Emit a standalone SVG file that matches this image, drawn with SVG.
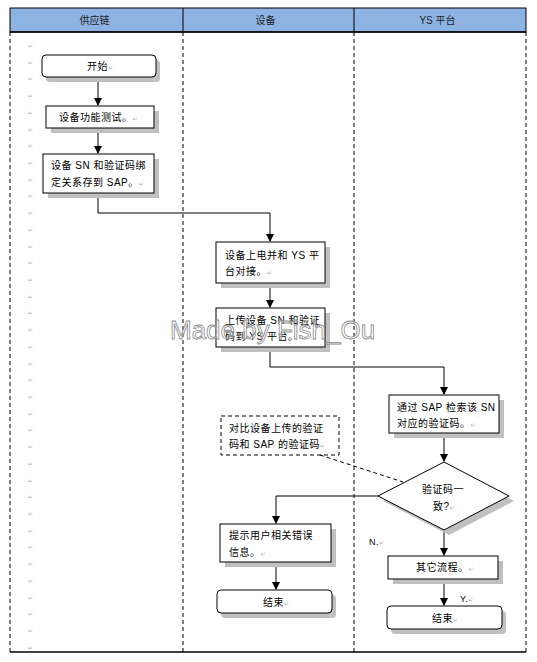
<svg xmlns="http://www.w3.org/2000/svg" width="537" height="662" viewBox="0 0 537 662">
<defs>
<style>
.t{font-family:"Liberation Sans","Noto Sans CJK SC",sans-serif;font-size:10px;fill:#000;letter-spacing:0.5px}
.h{font-family:"Liberation Sans","Noto Sans CJK SC",sans-serif;font-size:10px;fill:#222;text-anchor:middle}
.pm{font-family:"DejaVu Sans",sans-serif;font-size:6px;fill:#b0b0b0;letter-spacing:0}
.box{fill:#fff;stroke:#000;stroke-width:1}
.sh{fill:#c0c0c0}
.ln{fill:none;stroke:#000;stroke-width:1}
.dl{fill:none;stroke:#000;stroke-width:1;stroke-dasharray:4 3}
</style>
<marker id="ar" markerWidth="8" markerHeight="8" refX="7" refY="4" orient="auto" markerUnits="userSpaceOnUse">
<path d="M0,0 L8,4 L0,8 z" fill="#000"/>
</marker>
</defs>
<rect width="537" height="662" fill="#fff"/>
<g id="lanes">
<rect x="10" y="8" width="516" height="24" fill="#8db3e2" stroke="#000" stroke-width="1"/>
<line x1="183" y1="8" x2="183" y2="32" stroke="#000"/>
<line x1="354" y1="8" x2="354" y2="32" stroke="#000"/>
<line x1="10" y1="32" x2="526" y2="32" stroke="#000" stroke-width="1.5"/>
<line x1="10" y1="32" x2="10" y2="652" class="dl"/>
<line x1="183" y1="32" x2="183" y2="652" class="dl"/>
<line x1="354" y1="32" x2="354" y2="652" class="dl"/>
<line x1="526" y1="32" x2="526" y2="652" class="dl"/>
<line x1="10" y1="652" x2="526" y2="652" stroke="#000" stroke-width="1.5"/>
<text class="h" x="97" y="24">供应链<tspan class="pm">↵</tspan></text>
<text class="h" x="268" y="24">设备<tspan class="pm">↵</tspan></text>
<text class="h" x="440" y="24">YS 平台<tspan class="pm">↵</tspan></text>
</g>
<g id="marks" class="pm">
<text x="28" y="48">↵</text><text x="28" y="65">↵</text><text x="28" y="81">↵</text><text x="28" y="98">↵</text><text x="28" y="115">↵</text><text x="28" y="132">↵</text><text x="28" y="148">↵</text><text x="28" y="165">↵</text><text x="28" y="182">↵</text><text x="28" y="198">↵</text><text x="28" y="215">↵</text><text x="28" y="232">↵</text><text x="28" y="249">↵</text><text x="28" y="265">↵</text><text x="28" y="282">↵</text><text x="28" y="299">↵</text><text x="28" y="315">↵</text><text x="28" y="332">↵</text><text x="28" y="349">↵</text><text x="28" y="366">↵</text><text x="28" y="382">↵</text><text x="28" y="399">↵</text><text x="28" y="416">↵</text><text x="28" y="432">↵</text><text x="28" y="449">↵</text><text x="28" y="466">↵</text><text x="28" y="483">↵</text><text x="28" y="499">↵</text><text x="28" y="516">↵</text><text x="28" y="533">↵</text><text x="28" y="549">↵</text><text x="28" y="566">↵</text><text x="28" y="583">↵</text><text x="28" y="600">↵</text><text x="28" y="616">↵</text><text x="28" y="633">↵</text><text x="28" y="650">↵</text>
</g>
<g id="connectors">
<line x1="98" y1="77" x2="98" y2="105" class="ln" marker-end="url(#ar)"/>
<line x1="98" y1="128" x2="98" y2="153" class="ln" marker-end="url(#ar)"/>
<polyline points="98,193 98,213 270,213 270,241" class="ln" marker-end="url(#ar)"/>
<line x1="270" y1="283" x2="270" y2="307" class="ln" marker-end="url(#ar)"/>
<polyline points="270,347 270,367 444,367 444,394" class="ln" marker-end="url(#ar)"/>
<line x1="444" y1="433" x2="444" y2="461" class="ln" marker-end="url(#ar)"/>
<polyline points="378,496 276,496 276,523" class="ln" marker-end="url(#ar)"/>
<line x1="276" y1="562" x2="276" y2="589" class="ln" marker-end="url(#ar)"/>
<line x1="444" y1="530" x2="444" y2="555" class="ln" marker-end="url(#ar)"/>
<line x1="444" y1="579" x2="444" y2="605" class="ln" marker-end="url(#ar)"/>
<line x1="320" y1="455" x2="403" y2="482" class="dl"/>
<text class="t" x="369" y="545" style="font-size:9px">N.<tspan class="pm">↵</tspan></text>
<text class="t" x="460" y="602" style="font-size:9px">Y.<tspan class="pm">↵</tspan></text>
</g>
<g id="start">
<rect x="46" y="60" width="114" height="22" rx="4" class="sh"/>
<rect x="42" y="55" width="114" height="22" rx="4" class="box"/>
<text class="t" x="87" y="70">开始<tspan class="pm">↵</tspan></text>
</g>
<g id="test">
<rect x="51" y="111" width="108" height="22" class="sh"/>
<rect x="46" y="106" width="108" height="22" class="box"/>
<text class="t" x="59" y="121">设备功能测试。<tspan class="pm">↵</tspan></text>
</g>
<g id="bind">
<rect x="48" y="159" width="111" height="39" class="sh"/>
<rect x="43" y="154" width="111" height="39" class="box"/>
<text class="t" x="51" y="169">设备 SN 和验证码绑</text>
<text class="t" x="51" y="186">定关系存到 SAP。<tspan class="pm">↵</tspan></text>
</g>
<g id="poweron">
<rect x="221" y="247" width="109" height="41" class="sh"/>
<rect x="216" y="242" width="109" height="41" class="box"/>
<text class="t" x="225" y="259">设备上电并和 YS 平</text>
<text class="t" x="225" y="275">台对接。<tspan class="pm">↵</tspan></text>
</g>
<g id="upload">
<rect x="221" y="313" width="109" height="39" class="sh"/>
<rect x="216" y="308" width="109" height="39" class="box"/>
<text class="t" x="225" y="324">上传设备 SN 和验证</text>
<text class="t" x="225" y="340">码到 YS 平台。<tspan class="pm">↵</tspan></text>
</g>
<g id="lookup">
<rect x="394" y="400" width="110" height="38" class="sh"/>
<rect x="389" y="395" width="110" height="38" class="box"/>
<text class="t" x="397" y="411">通过 SAP 检索该 SN</text>
<text class="t" x="397" y="427">对应的验证码。<tspan class="pm">↵</tspan></text>
</g>
<g id="note">
<rect x="221" y="416" width="118" height="39" fill="#fff" class="dl"/>
<text class="t" x="229" y="432">对比设备上传的验证</text>
<text class="t" x="229" y="448">码和 SAP 的验证码<tspan class="pm">↵</tspan></text>
</g>
<g id="decision">
<polygon points="449,467 514,501 449,535 383,501" class="sh"/>
<polygon points="444,462 509,496 444,530 378,496" class="box"/>
<text class="t" x="422" y="493">验证码一</text>
<text class="t" x="433" y="510">致?<tspan class="pm">↵</tspan></text>
</g>
<g id="error">
<rect x="225" y="529" width="111" height="38" class="sh"/>
<rect x="220" y="524" width="111" height="38" class="box"/>
<text class="t" x="229" y="539">提示用户相关错误</text>
<text class="t" x="229" y="556">信息。<tspan class="pm">↵</tspan></text>
</g>
<g id="end1">
<rect x="221" y="595" width="115" height="23" rx="4" class="sh"/>
<rect x="217" y="590" width="115" height="23" rx="4" class="box"/>
<text class="t" x="263" y="606">结束<tspan class="pm">↵</tspan></text>
</g>
<g id="other">
<rect x="393" y="561" width="110" height="23" class="sh"/>
<rect x="388" y="556" width="110" height="23" class="box"/>
<text class="t" x="416" y="571">其它流程。<tspan class="pm">↵</tspan></text>
</g>
<g id="end2">
<rect x="391" y="611" width="115" height="23" rx="4" class="sh"/>
<rect x="387" y="606" width="115" height="23" rx="4" class="box"/>
<text class="t" x="432" y="622">结束<tspan class="pm">↵</tspan></text>
</g>
<text x="170" y="339" style="font-family:'Liberation Sans',sans-serif;font-size:26px;fill:#fff;fill-opacity:0.5;stroke:#8c8c8c;stroke-width:0.8">Made by Fish_Ou</text>
</svg>
